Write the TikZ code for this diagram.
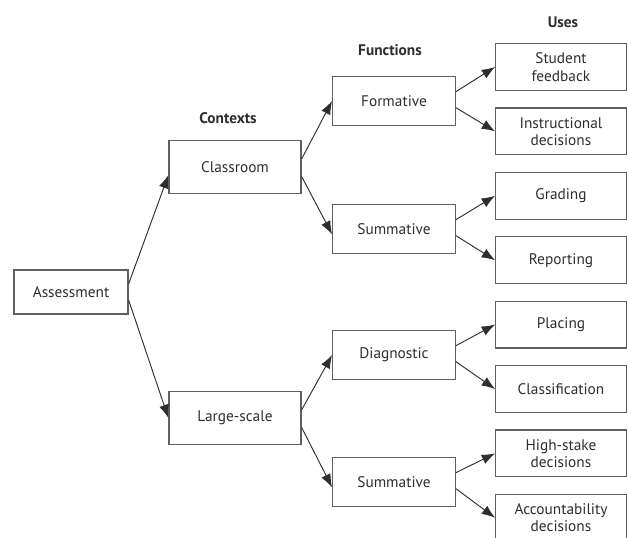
\documentclass[tikz,border=0pt]{standalone}
\usepackage{fontspec}
\setmainfont{PT Sans}
\usepackage{xcolor}
\usepackage{tikz}
\usetikzlibrary{shapes,arrows.meta}

\definecolor{linegray}{HTML}{606060}
\definecolor{textgray}{HTML}{2E2E2E}

\begin{document}
\begin{tikzpicture}[x=0.75pt, y=-0.75pt, node distance=48.3pt,
  box/.style={rectangle, draw=linegray, line width=0.9pt, text=textgray, align=center, font=\fontsize{11.5}{13}\selectfont, inner sep=2pt},
  ctxbox/.style={box, minimum width=99pt, minimum height=40pt},
  funbox/.style={box, minimum width=92pt, minimum height=37pt},
  usebox/.style={box, minimum width=98pt, minimum height=35pt},
  head/.style={text=textgray, font=\fontsize{11.5}{13}\selectfont\bfseries},
  link/.style={draw=textgray, line width=0.7pt, -{Latex[length=10pt,width=7.5pt]}}]
\useasboundingbox (0,0) rectangle (628,538);

% column headers
\node (hctx) [head] at (228,118) {Contexts};
\node (hfun) [head] at (390,50) {Functions};
\node (huse) [head] at (563,22) {Uses};

% boxes
\node (assess) [box, minimum width=85.5pt, minimum height=33pt] at (71,292) {Assessment};
\node (classroom) [ctxbox] at (235,167) {Classroom};
\node (largescale) [ctxbox] at (235,418) {Large-scale};

\node (formative) [funbox] at (394,101) {Formative};
\node (summA) [funbox] at (394,229) {Summative};
\node (diagnostic) [funbox] at (394,355) {Diagnostic};
\node (summB) [funbox] at (394,482) {Summative};

\node (feedback) [usebox] at (561,67) {Student\\feedback};
\node (instruct) [usebox, below of=feedback] {Instructional\\decisions};
\node (grading) [usebox, below of=instruct] {Grading};
\node (reporting) [usebox, below of=grading] {Reporting};
\node (placing) [usebox, below of=reporting] {Placing};
\node (classif) [usebox, below of=placing] {Classification};
\node (highstake) [usebox, below of=classif] {High-stake\\decisions};
\node (account) [usebox, below of=highstake] {Accountability\\decisions};

% connectors
\draw [link] ([yshift=6pt]assess.east) -- ([yshift=-6pt]classroom.west);
\draw [link] ([yshift=-6pt]assess.east) -- (largescale.west);

\draw [link] ([yshift=6pt]classroom.east) -- (formative.west);
\draw [link] ([yshift=-7pt]classroom.east) -- ([yshift=-4pt]summA.west);
\draw [link] ([yshift=6pt]largescale.east) -- (diagnostic.west);
\draw [link] ([yshift=-7pt]largescale.east) -- ([yshift=-4pt]summB.west);

\draw [link] ([yshift=7pt]formative.east) -- (feedback.west);
\draw [link] ([yshift=-5pt]formative.east) -- (instruct.west);
\draw [link] ([yshift=7pt]summA.east) -- (grading.west);
\draw [link] ([yshift=-5pt]summA.east) -- (reporting.west);
\draw [link] ([yshift=7pt]diagnostic.east) -- (placing.west);
\draw [link] ([yshift=-5pt]diagnostic.east) -- (classif.west);
\draw [link] ([yshift=7pt]summB.east) -- (highstake.west);
\draw [link] ([yshift=-5pt]summB.east) -- (account.west);
\end{tikzpicture}
\end{document}
